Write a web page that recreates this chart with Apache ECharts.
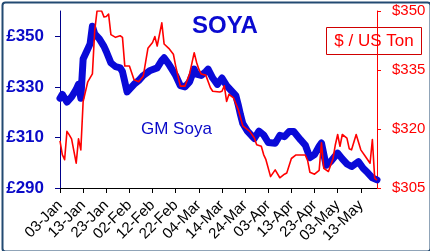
<!DOCTYPE html>
<html>
<head>
<meta charset="utf-8">
<script src="https://cdn.jsdelivr.net/npm/echarts@6/dist/echarts.min.js"></script>
<style>
html,body{margin:0;padding:0;background:#fff;}
#c{width:430px;height:251px;}
</style>
</head>
<body>
<div id="c"></div>
<script>
// x axis: days after 03-Jan, tick every 10 days
const tickLabels = ['03-Jan','13-Jan','23-Jan','02-Feb','12-Feb','22-Feb','04-Mar','14-Mar','24-Mar','03-Apr','13-Apr','23-Apr','03-May','13-May'];

// GM Soya, GBP per ton (left axis)
const gbpDays = [0,1,3,5,7,8,9,10,12,13,14,15,17,19,20,22,24,26,27,28,29,30,32,34,36,39,42,44,45,47,48,50,52,54,56,58,59,61,63,64,66,68,70,72,75,76,77,78,79,81,83,84,86,88,90,93,95,97,99,101,104,106,108,110,112,113,115,117,120,122,124,126,129,131,133,135,137];
const gbpValues = [325.5,327,324,326,329,331,325.5,341,345,347,354,351,349,346,344,339.5,338,337.5,336,332,328,329,331,332.5,334.5,336.5,337.5,340.5,341.5,339,337.5,334.5,330.5,330,332,337,335,334.5,336,337,333.5,331,333.5,330.5,327.5,326.5,323,319,315.5,312.5,310.5,309.6,312.5,311,308,307.7,310.8,310.3,312.3,312.3,309,307,302,303.2,306.5,307.8,299,300.5,303.8,301.5,299.5,298.5,300.4,297.8,296,294,293.2];

// Soya, USD per ton (right axis)
const usdDays = [0,1,2,3,4,5,7,8,9,10,12,14,15,16,17,18,19,20,21,22,24,26,27,28,30,32,34,36,37,38,40,41,42,44,45,47,49,50,52,54,56,58,59,60,61,63,65,66,69,70,71,72,73,75,77,79,82,84,85,87,88,89,91,93,95,97,98,100,102,104,106,107,108,110,112,113,114,116,118,119,120,121,122,124,125,126,128,130,132,134,135,136,137];
const usdValues = [317,313.5,312.2,319.4,318.5,317.5,311.3,317.5,314.7,327,332,334,345,350,350,350,348.5,348.6,349.2,344,343.3,343.7,343.3,336,336,332.5,332,333.5,337,340.5,342,343.5,341.1,347,341.6,340.5,339,336,330.9,330.9,334,339.4,337,335.2,334,333.7,330.5,329.6,329.4,329.6,331,327,328.8,327.9,325,320.8,319.4,317.7,316,315.6,313.5,312.2,307.9,309.6,307.6,308.5,308.8,312.5,313.4,313.4,313.4,312,309,308.5,309.5,316.5,310,309.2,312.5,316,318.6,315.6,318.6,317.7,315,314.7,318.6,314.7,313,311.3,317.3,307.5,307];

const leftTicks = {min:290, max:360, interval:20};
const rightTicks = {min:305, max:350, interval:15};

const chart = echarts.init(document.getElementById('c'), null, {renderer:'canvas'});
const BLUE = '#0A0AD8';
const RED = '#FF0000';
const SANS = "'Liberation Sans',Arial,sans-serif";

chart.setOption({
  animation:false,
  backgroundColor:'#ffffff',
  grid:{left:60,right:53,top:11,bottom:63,containLabel:false},
  title:{
    text:'SOYA', left:187, top:9,
    textStyle:{color:'#0A0AD0',fontSize:24,fontWeight:'bold',fontFamily:SANS}
  },
  xAxis:{
    type:'value', min:0, max:137, interval:10,
    axisLine:{show:true,lineStyle:{color:'#000',width:1}},
    axisTick:{show:true,inside:false,length:5,lineStyle:{color:'#000'}},
    splitLine:{show:false},
    axisLabel:{
      rotate:45, margin:15, fontSize:15, color:'#000', showMaxLabel:false,
      fontFamily:SANS,
      formatter:function(v){ const i=Math.round(v/10); return (v%10===0 && tickLabels[i]) ? tickLabels[i] : ''; }
    }
  },
  yAxis:[
    {
      type:'value', position:'left', min:leftTicks.min, max:leftTicks.max, interval:leftTicks.interval,
      axisLine:{show:true,lineStyle:{color:'#00008B',width:1}},
      axisTick:{show:true,inside:false,length:5,lineStyle:{color:'#00008B'}},
      splitLine:{show:false},
      axisLabel:{
        margin:16, fontSize:17, fontWeight:'bold', color:'#0A0AC8', showMaxLabel:false,
        fontFamily:SANS,
        formatter:function(v){ return '£'+v; }
      }
    },
    {
      type:'value', position:'right', min:rightTicks.min, max:rightTicks.max, interval:rightTicks.interval,
      axisLine:{show:true,lineStyle:{color:RED,width:1}},
      axisTick:{show:true,inside:false,length:4,lineStyle:{color:RED}},
      splitLine:{show:false},
      axisLabel:{
        margin:15, fontSize:15, color:RED, fontFamily:SANS,
        formatter:function(v){ return '$'+v; }
      }
    }
  ],
  series:[
    {
      name:'GM Soya', type:'line', yAxisIndex:0, symbol:'none', silent:true,
      lineStyle:{color:BLUE,width:7,cap:'round',join:'round'},
      data:gbpDays.map(function(d,i){return [d,gbpValues[i]];})
    },
    {
      name:'USD', type:'line', yAxisIndex:1, symbol:'none', silent:true,
      lineStyle:{color:RED,width:1.6,join:'round'},
      data:usdDays.map(function(d,i){return [d,usdValues[i]];})
    }
  ],
  graphic:[
    {
      type:'text', left:141, top:121, z:10,
      style:{text:'GM Soya', fill:'#0A0AC8', fontSize:17, fontFamily:SANS}
    },
    {
      type:'group', left:326, top:27, z:20,
      children:[
        {type:'rect', shape:{x:0,y:0,width:95,height:27}, style:{fill:'#fff',stroke:'#D00000',lineWidth:1}},
        {type:'text', style:{text:'$ / US Ton', x:47.5, y:14, align:'center', verticalAlign:'middle', fill:RED, fontSize:17, fontFamily:SANS}}
      ]
    },
    {
      type:'rect', left:0, top:0, z:30, silent:true,
      shape:{x:1,y:1,width:428,height:249,r:3},
      style:{fill:'none',stroke:'#234A72',lineWidth:2}
    }
  ]
});
</script>
</body>
</html>
